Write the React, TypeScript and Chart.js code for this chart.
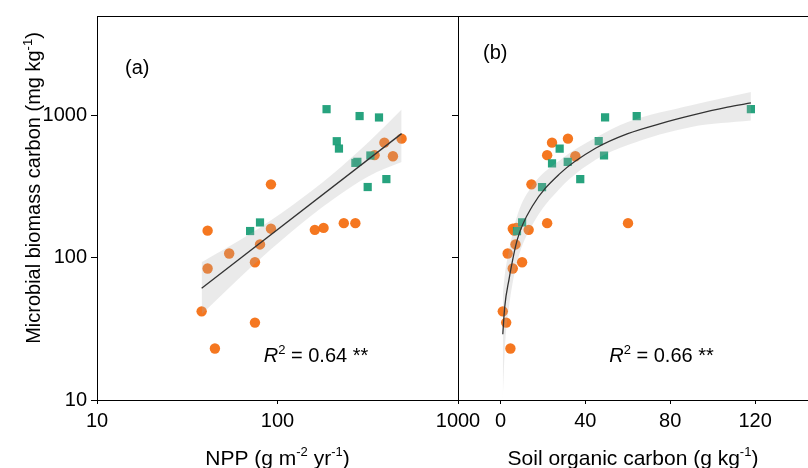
import React, { useEffect, useRef } from 'react';
import { Chart, registerables } from 'chart.js';

Chart.register(...registerables);

const FONT = '"Liberation Sans", Arial, sans-serif';

// ---- Panel (a): NPP vs microbial biomass carbon ----
const nppOrange = [38, 41, 41, 54, 45, 75, 80, 75, 92, 92, 161, 180, 233, 270, 345, 391, 436, 487];
const mbcOrangeA = [42, 155, 84, 107, 23, 93, 124, 35, 328, 160, 157, 162, 175, 175, 526, 644, 517, 687];
const nppGreen = [70.5, 80, 187, 213, 219, 270, 277, 285, 327, 316, 365, 401];
const mbcGreenA = [154, 177, 1107, 659, 585, 464, 472, 990, 523, 314, 968, 357];
const fitNpp = [38, 487];
const fitMbcA = [61, 745];
const bandNpp = [38, 70, 120, 200, 320, 487];
const bandUpperA = [93, 146, 232, 383, 650, 1100];
const bandLowerA = [40, 84, 153, 253, 374, 470];

// ---- Panel (b): SOC vs microbial biomass carbon ----
const socOrange = [1.1, 2.7, 4.7, 5.8, 3.4, 7.1, 5.8, 10.2, 13.3, 14.6, 22, 22, 24.3, 31.8, 35.3, 60.1, 6.5, 7.5];
const mbcOrangeB = [42, 35, 23, 84, 107, 124, 160, 93, 157, 328, 175, 526, 644, 687, 517, 175, 155, 162];
const socGreen = [7.8, 10.2, 19.6, 24.3, 27.9, 31.7, 37.6, 46.3, 48.8, 49.3, 64.2, 118];
const mbcGreenB = [154, 177, 313, 460, 585, 472, 357, 659, 523, 968, 990, 1107];
const curveSoc = [1.1, 2, 4, 8, 15, 28, 45, 60, 75, 90, 107, 118];
const curveMbc = [29, 45, 70, 135, 230, 390, 590, 745, 873, 1000, 1143, 1224];
const bandSoc = [1.1, 2, 4, 8, 15, 28, 45, 60, 90, 118];
const bandUpperB = [55, 75, 112, 200, 320, 485, 700, 900, 1180, 1460];
const bandLowerB = [10, 22, 45, 95, 170, 307, 490, 620, 830, 920];

// ---- ticks ----
const mbcTicks = [10, 100, 1000];
const nppTicks = [10, 100, 1000];
const socTicks = [0, 40, 80, 120];

const ORANGE = 'rgba(244,112,20,0.95)';
const GREEN = 'rgba(27,158,119,0.95)';
const BAND = 'rgba(170,170,170,0.25)';
const LINE = '#333333';

type Part = { t: string; sup?: boolean; italic?: boolean };

function drawRich(ctx: CanvasRenderingContext2D, parts: Part[], x: number, y: number, size: number, align: 'center' | 'left') {
  const supSize = Math.round(size * 0.64);
  const fontFor = (p: Part) => `${p.italic ? 'italic ' : ''}${p.sup ? supSize : size}px ${FONT}`;
  let total = 0;
  for (const p of parts) {
    ctx.font = fontFor(p);
    total += ctx.measureText(p.t).width;
  }
  let cx = align === 'center' ? x - total / 2 : x;
  ctx.textBaseline = 'alphabetic';
  ctx.textAlign = 'left';
  ctx.fillStyle = '#000';
  for (const p of parts) {
    ctx.font = fontFor(p);
    ctx.fillText(p.t, cx, p.sup ? y - size * 0.42 : y);
    cx += ctx.measureText(p.t).width;
  }
}

const zip = (xs: number[], ys: number[]) => xs.map((x, i) => ({ x, y: ys[i] }));

function makeDatasets(xo: number[], yo: number[], xg: number[], yg: number[], bx: number[], bu: number[], bl: number[], lx: number[], ly: number[], smooth: boolean) {
  return [
    {
      data: zip(xo, yo), order: 4, pointStyle: 'circle', pointRadius: 5.2,
      backgroundColor: ORANGE, borderWidth: 0, showLine: false,
    },
    {
      data: zip(xg, yg), order: 3, pointStyle: 'rect', pointRadius: 5.8,
      backgroundColor: GREEN, borderWidth: 0, showLine: false,
    },
    {
      data: zip(bx, bu), order: 2, showLine: true, pointRadius: 0, borderWidth: 0,
      borderColor: 'rgba(0,0,0,0)', fill: false, tension: smooth ? 0.4 : 0,
      cubicInterpolationMode: 'monotone',
    },
    {
      data: zip(bx, bl), order: 2, showLine: true, pointRadius: 0, borderWidth: 0,
      borderColor: 'rgba(0,0,0,0)', backgroundColor: BAND, fill: '-1', tension: smooth ? 0.4 : 0,
      cubicInterpolationMode: 'monotone',
    },
    {
      data: zip(lx, ly), order: 0, showLine: true, pointRadius: 0, borderWidth: 1.3,
      borderColor: LINE, fill: false, tension: smooth ? 0.4 : 0, cubicInterpolationMode: 'monotone',
    },
  ];
}

const tickFont = { family: FONT, size: 20 };

export default function App() {
  const refA = useRef<HTMLCanvasElement>(null);
  const refB = useRef<HTMLCanvasElement>(null);

  useEffect(() => {
    const frameA = {
      id: 'frameA',
      afterDraw(chart: any) {
        const { ctx, chartArea: ca } = chart;
        ctx.save();
        ctx.strokeStyle = '#000';
        ctx.lineWidth = 1;
        ctx.beginPath();
        ctx.moveTo(ca.left, ca.top + 0.5);
        ctx.lineTo(ca.right + 0.5, ca.top + 0.5);
        ctx.lineTo(ca.right + 0.5, ca.bottom);
        ctx.stroke();
        drawRich(ctx, [{ t: '(a)' }], ca.left + 28, 74, 20, 'left');
        drawRich(ctx, [{ t: 'R', italic: true }, { t: '2', sup: true }, { t: ' = 0.64 **' }], 316, 362, 20, 'center');
        drawRich(ctx, [{ t: 'NPP (g m' }, { t: '-2', sup: true }, { t: ' yr' }, { t: '-1', sup: true }, { t: ')' }], (ca.left + ca.right) / 2, 465, 21, 'center');
        ctx.translate(40, 188);
        ctx.rotate(-Math.PI / 2);
        drawRich(ctx, [{ t: 'Microbial biomass carbon (mg kg' }, { t: '-1', sup: true }, { t: ')' }], 0, 0, 20, 'center');
        ctx.restore();
      },
    };
    const frameB = {
      id: 'frameB',
      afterDraw(chart: any) {
        const { ctx, chartArea: ca, width } = chart;
        ctx.save();
        ctx.strokeStyle = '#000';
        ctx.lineWidth = 1;
        ctx.beginPath();
        ctx.moveTo(ca.left, ca.top + 0.5);
        ctx.lineTo(width, ca.top + 0.5);
        ctx.stroke();
        drawRich(ctx, [{ t: '(b)' }], ca.left + 25, 59, 20, 'left');
        drawRich(ctx, [{ t: 'R', italic: true }, { t: '2', sup: true }, { t: ' = 0.66 **' }], 661.5 - 440, 362, 20, 'center');
        drawRich(ctx, [{ t: 'Soil organic carbon (g kg' }, { t: '-1', sup: true }, { t: ')' }], (ca.left + 368) / 2, 465, 21, 'center');
        ctx.restore();
      },
    };

    const common = (xScale: any, yScale: any) => ({
      responsive: false,
      animation: false as const,
      devicePixelRatio: 1,
      plugins: { legend: { display: false }, tooltip: { enabled: false } },
      scales: { x: xScale, y: yScale },
    });

    const axisX = (type: string, min: number, max: number, ticks: number[]) => ({
      type, min, max,
      afterBuildTicks: (s: any) => { s.ticks = ticks.map((v) => ({ value: v })); },
      afterFit: (s: any) => { s.height = 68; },
      ticks: { font: tickFont, color: '#000', padding: 5, maxRotation: 0, autoSkip: false, callback: (v: any) => String(v) },
      grid: { display: true, drawOnChartArea: false, drawTicks: true, tickLength: 4, color: '#000', lineWidth: 1 },
      border: { display: true, color: '#000', width: 1 },
    });
    const axisY = (width: number, showLabels: boolean) => ({
      type: 'logarithmic', min: 10, max: 5000,
      afterBuildTicks: (s: any) => { s.ticks = mbcTicks.map((v) => ({ value: v })); },
      afterFit: (s: any) => { s.width = width; },
      ticks: { font: tickFont, color: '#000', padding: 4, autoSkip: false, callback: (v: any) => (showLabels ? String(v) : '') },
      grid: { display: true, drawOnChartArea: false, drawTicks: true, tickLength: 6, color: '#000', lineWidth: 1 },
      border: { display: true, color: '#000', width: 1 },
    });

    const chartA = new Chart(refA.current!, {
      type: 'scatter',
      data: { datasets: makeDatasets(nppOrange, mbcOrangeA, nppGreen, mbcGreenA, bandNpp, bandUpperA, bandLowerA, fitNpp, fitMbcA, false) as any },
      options: {
        ...common(axisX('logarithmic', 10, 1000, nppTicks), axisY(97, true)),
        layout: { padding: { left: 0, top: 14, right: 32, bottom: 0 } },
      } as any,
      plugins: [frameA],
    });

    const chartB = new Chart(refB.current!, {
      type: 'scatter',
      data: { datasets: makeDatasets(socOrange, mbcOrangeB, socGreen, mbcGreenB, bandSoc, bandUpperB, bandLowerB, curveSoc, curveMbc, true) as any },
      options: {
        ...common(axisX('linear', -20, 145, socTicks), axisY(18, false)),
        layout: { padding: { left: 0, top: 14, right: 0, bottom: 0 } },
      } as any,
      plugins: [frameB],
    });

    return () => {
      chartA.destroy();
      chartB.destroy();
    };
  }, []);

  return (
    <div style={{ position: 'fixed', left: 0, top: 0, width: 808, height: 468, background: '#fff', overflow: 'hidden' }}>
      <canvas ref={refB} width={374} height={468} style={{ position: 'absolute', left: 440, top: 0, width: 374, height: 468 }} />
      <canvas ref={refA} width={490} height={468} style={{ position: 'absolute', left: 0, top: 0, width: 490, height: 468 }} />
    </div>
  );
}
